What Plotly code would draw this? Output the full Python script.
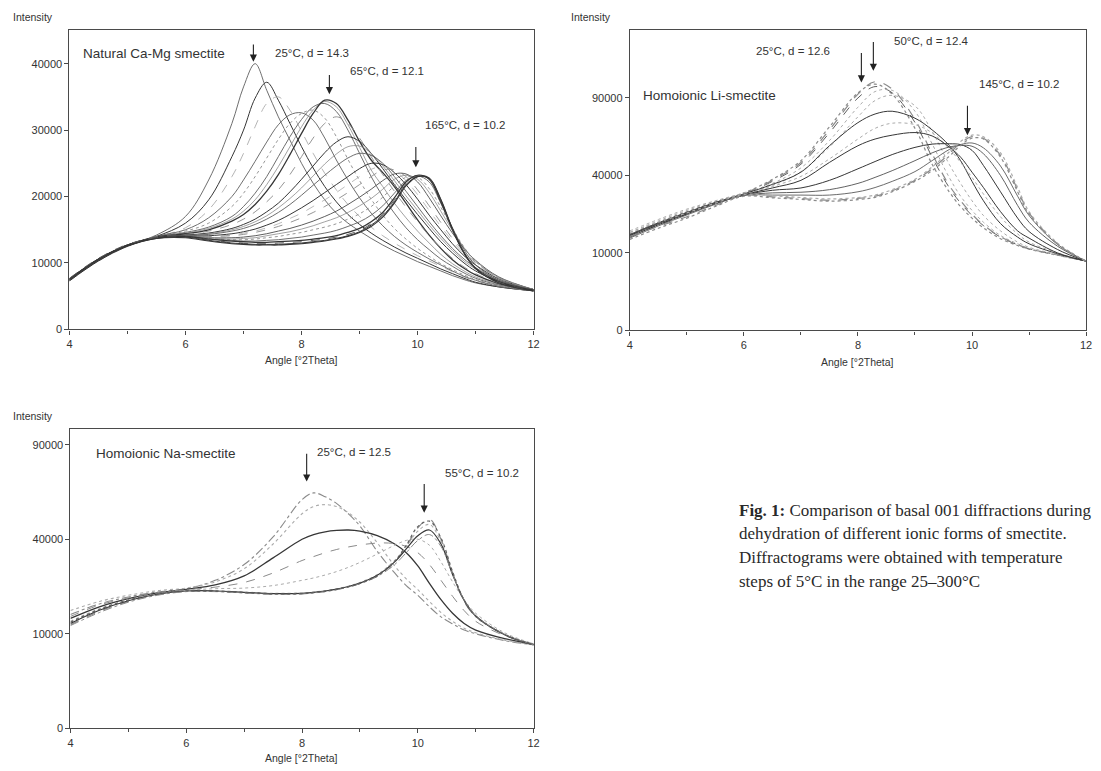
import numpy as np
import plotly.graph_objects as go

W, H = 1101, 771
SANS = "Liberation Sans, Arial, sans-serif"
SERIF = "Liberation Serif, Times New Roman, serif"

# ---------------- Natural Ca-Mg smectite (intensity in thousands of counts) ----------------
camg_angle = [4.0, 4.5, 5.0, 5.5, 6.0, 6.4, 6.8, 7.0, 7.2, 7.4, 7.6, 7.8, 8.0, 8.2, 8.4,
              8.6, 8.8, 9.0, 9.2, 9.4, 9.6, 9.8, 10.0, 10.2, 10.4, 10.6, 10.8, 11.0, 11.4, 12.0]
camg_25 = [7.4, 10.4, 12.6, 14.2, 17.0, 22.5, 31.0, 36.5, 40.0, 36.0, 32.0, 28.5, 25.0, 22.0, 19.5,
           17.5, 16.0, 14.8, 13.7, 12.7, 11.8, 11.0, 10.2, 9.5, 8.8, 8.1, 7.5, 7.0, 6.4, 5.8]
camg_30 = [7.6, 10.6, 12.7, 14.0, 16.0, 19.5, 26.0, 30.0, 34.8, 37.2, 34.5, 31.0, 27.5, 24.3, 21.5,
           19.2, 17.3, 15.8, 14.5, 13.4, 12.4, 11.5, 10.7, 9.9, 9.1, 8.4, 7.7, 7.1, 6.4, 5.8]
camg_35 = [7.3, 10.3, 12.5, 13.9, 15.3, 18.0, 23.0, 26.5, 30.5, 34.0, 35.0, 33.0, 29.8, 26.5, 23.5,
           21.0, 18.8, 17.0, 15.4, 14.1, 13.0, 12.0, 11.1, 10.3, 9.5, 8.7, 7.9, 7.3, 6.5, 5.8]
camg_40 = [7.5, 10.5, 12.6, 14.0, 15.0, 16.8, 20.0, 22.5, 25.3, 28.2, 30.8, 32.3, 32.6, 31.5, 28.8,
           25.5, 22.5, 19.8, 17.5, 15.6, 14.0, 12.7, 11.6, 10.6, 9.7, 8.8, 8.0, 7.4, 6.5, 5.8]
camg_45 = [7.6, 10.6, 12.7, 14.0, 14.8, 16.0, 18.5, 20.5, 23.0, 25.8, 28.6, 31.0, 32.5, 33.0, 31.8,
           29.0, 25.6, 22.4, 19.6, 17.2, 15.2, 13.6, 12.2, 11.0, 9.9, 9.0, 8.2, 7.5, 6.6, 5.8]
camg_55 = [7.4, 10.4, 12.6, 13.9, 14.6, 15.4, 17.0, 18.5, 20.5, 23.0, 26.0, 29.0, 31.6, 33.5, 34.0,
           32.8, 30.0, 26.5, 23.0, 20.0, 17.5, 15.3, 13.5, 12.0, 10.6, 9.5, 8.5, 7.7, 6.7, 5.9]
camg_60 = [7.5, 10.5, 12.6, 13.9, 14.5, 15.2, 16.6, 17.8, 19.5, 21.8, 24.5, 27.5, 30.5, 33.0, 34.3,
           33.5, 30.8, 27.4, 24.0, 21.5, 19.0, 16.8, 14.8, 13.0, 11.3, 9.9, 8.8, 7.9, 6.8, 5.9]
camg_65 = [7.5, 10.5, 12.7, 13.9, 14.4, 15.0, 16.3, 17.3, 18.8, 20.8, 23.3, 26.3, 29.5, 32.5, 34.5,
           34.0, 31.5, 28.3, 25.5, 23.6, 21.5, 19.0, 16.5, 14.2, 12.2, 10.5, 9.2, 8.2, 6.9, 5.9]
camg_75 = [7.6, 10.6, 12.7, 13.9, 14.3, 14.8, 15.8, 16.6, 17.7, 19.2, 21.0, 23.3, 26.0, 28.8, 31.0,
           32.0, 31.0, 28.8, 26.0, 23.3, 20.8, 18.4, 16.2, 14.1, 12.3, 10.7, 9.4, 8.4, 7.0, 5.9]
camg_85 = [7.4, 10.4, 12.6, 13.8, 14.2, 14.5, 15.2, 15.8, 16.6, 17.7, 19.0, 20.7, 22.6, 24.6, 26.6,
           28.2, 29.0, 28.3, 26.5, 24.2, 21.8, 19.5, 17.3, 15.2, 13.2, 11.5, 10.0, 8.8, 7.2, 6.0]
camg_90 = [7.5, 10.5, 12.6, 13.8, 14.1, 14.4, 15.0, 15.5, 16.2, 17.1, 18.3, 19.7, 21.3, 23.1, 24.9,
           26.4, 27.5, 27.6, 26.5, 24.6, 22.4, 20.1, 17.9, 15.7, 13.7, 11.9, 10.3, 9.1, 7.3, 6.0]
camg_95 = [7.5, 10.5, 12.6, 13.8, 14.1, 14.3, 14.8, 15.2, 15.8, 16.6, 17.6, 18.8, 20.2, 21.7, 23.2,
           24.6, 25.8, 26.5, 26.2, 25.0, 23.0, 20.8, 18.5, 16.2, 14.1, 12.2, 10.6, 9.3, 7.4, 6.0]
camg_105 = [7.6, 10.6, 12.7, 13.8, 14.0, 14.1, 14.4, 14.7, 15.1, 15.7, 16.4, 17.3, 18.3, 19.4, 20.6,
            21.8, 23.0, 24.2, 25.0, 24.8, 23.6, 21.8, 19.6, 17.2, 15.0, 12.9, 11.1, 9.7, 7.6, 6.0]
camg_110 = [7.5, 10.5, 12.6, 13.8, 14.0, 14.0, 14.2, 14.5, 14.8, 15.3, 15.9, 16.7, 17.5, 18.5, 19.5,
            20.6, 21.8, 23.0, 24.1, 24.5, 23.9, 22.4, 20.3, 17.9, 15.5, 13.3, 11.4, 9.9, 7.7, 6.0]
camg_115 = [7.4, 10.4, 12.6, 13.8, 14.0, 14.0, 14.1, 14.3, 14.6, 15.0, 15.5, 16.1, 16.8, 17.6, 18.5,
            19.5, 20.6, 21.8, 23.0, 24.0, 24.0, 23.0, 21.0, 18.6, 16.1, 13.7, 11.7, 10.1, 7.8, 6.0]
camg_125 = [7.5, 10.5, 12.6, 13.8, 14.0, 13.8, 13.8, 13.9, 14.1, 14.4, 14.8, 15.2, 15.7, 16.3, 17.0,
            17.8, 18.8, 19.9, 21.1, 22.4, 23.4, 23.4, 22.2, 19.8, 17.1, 14.5, 12.2, 10.4, 7.9, 6.0]
camg_135 = [7.5, 10.5, 12.6, 13.8, 14.0, 13.8, 13.6, 13.7, 13.8, 14.1, 14.4, 14.7, 15.1, 15.6, 16.2,
            16.8, 17.6, 18.6, 19.7, 21.1, 22.6, 23.2, 22.6, 20.6, 17.8, 14.9, 12.3, 10.3, 7.8, 6.0]
camg_145 = [7.6, 10.6, 12.7, 13.8, 14.0, 13.7, 13.5, 13.5, 13.6, 13.8, 14.0, 14.3, 14.6, 15.0, 15.4,
            15.9, 16.6, 17.4, 18.5, 19.9, 21.6, 22.9, 22.9, 21.2, 18.4, 15.2, 12.4, 10.2, 7.7, 6.0]
camg_155 = [7.4, 10.4, 12.6, 13.8, 14.0, 13.6, 13.4, 13.3, 13.3, 13.4, 13.5, 13.7, 13.9, 14.2, 14.5,
            14.9, 15.5, 16.2, 17.2, 18.6, 20.5, 22.4, 23.1, 22.2, 19.0, 15.3, 12.0, 9.7, 7.4, 6.0]
camg_165 = [7.6, 10.6, 12.7, 13.8, 14.0, 13.6, 13.3, 13.2, 13.1, 13.1, 13.2, 13.3, 13.4, 13.6, 13.8,
            14.1, 14.6, 15.2, 16.2, 17.6, 19.8, 22.2, 23.2, 22.6, 19.2, 15.0, 11.5, 9.2, 7.2, 5.9]
camg_200 = [7.5, 10.5, 12.6, 13.7, 13.8, 13.3, 12.9, 12.8, 12.7, 12.7, 12.7, 12.8, 12.9, 13.1, 13.3,
            13.6, 14.0, 14.6, 15.5, 16.9, 19.0, 21.6, 23.0, 22.8, 19.6, 15.2, 11.6, 9.2, 7.1, 5.8]
camg_250 = [7.7, 10.7, 12.8, 13.8, 13.9, 13.5, 13.1, 13.0, 12.9, 12.9, 13.0, 13.1, 13.2, 13.4, 13.6,
            13.9, 14.3, 14.9, 15.9, 17.3, 19.5, 22.0, 23.1, 22.7, 19.4, 15.1, 11.6, 9.2, 7.1, 5.8]
camg_300 = [7.3, 10.3, 12.5, 13.7, 13.9, 13.4, 13.0, 12.9, 12.8, 12.8, 12.8, 12.9, 13.0, 13.2, 13.4,
            13.7, 14.1, 14.7, 15.7, 17.1, 19.2, 21.8, 23.0, 22.7, 19.5, 15.1, 11.5, 9.1, 7.0, 5.8]

# ---------------- Homoionic Li-smectite ----------------
li_angle = [4.0, 4.5, 5.0, 5.5, 6.0, 6.5, 7.0, 7.5, 8.0, 8.3, 8.6, 9.0, 9.3, 9.6, 9.8, 10.0,
            10.2, 10.5, 10.8, 11.0, 11.5, 12.0]
li_25 = [15.5, 19.5, 23.5, 27.5, 31.5, 38.0, 48.0, 69.0, 94.0, 101.0, 93.0, 68.0, 46.0, 32.0, 25.5,
         21.0, 17.5, 14.0, 12.0, 11.0, 9.4, 8.0]
li_30 = [14.5, 18.5, 22.5, 27.0, 31.0, 37.0, 46.0, 65.0, 90.0, 99.0, 94.0, 72.0, 50.0, 34.0, 27.0,
         22.0, 18.3, 14.5, 12.2, 11.1, 9.5, 8.0]
li_40 = [16.5, 20.5, 24.5, 28.0, 31.5, 36.0, 44.0, 60.0, 83.0, 95.0, 96.0, 80.0, 58.0, 39.0, 30.0,
         24.0, 19.5, 15.0, 12.5, 11.2, 9.5, 8.0]
li_50 = [15.0, 19.0, 23.0, 27.2, 31.2, 37.5, 47.0, 67.0, 93.0, 103.0, 97.0, 74.0, 52.0, 35.0, 28.0,
         22.5, 18.5, 14.6, 12.3, 11.1, 9.5, 8.0]
li_60 = [16.0, 20.0, 24.0, 27.8, 31.0, 35.0, 42.0, 56.0, 76.0, 88.0, 92.0, 84.0, 66.0, 46.0, 36.0,
         28.0, 22.0, 16.5, 13.0, 11.5, 9.6, 8.0]
li_70 = [15.2, 19.3, 23.2, 27.3, 31.0, 35.5, 41.7, 56.8, 71.9, 78.0, 80.0, 75.0, 67.0, 57.0, 48.0,
         37.0, 28.0, 19.0, 14.5, 12.5, 9.8, 8.0]
li_80 = [14.8, 18.8, 22.8, 27.0, 30.8, 34.5, 39.5, 49.0, 61.0, 68.0, 71.5, 70.5, 65.0, 55.0, 47.0,
         39.0, 31.0, 21.5, 15.5, 13.0, 10.0, 8.0]
li_90 = [15.0, 19.0, 23.0, 27.0, 30.6, 33.8, 37.5, 47.0, 56.8, 61.0, 63.5, 65.2, 63.0, 56.0, 50.0,
         41.7, 34.0, 23.5, 16.5, 14.2, 10.0, 8.0]
li_100 = [14.6, 18.6, 22.6, 26.8, 30.5, 32.7, 33.8, 37.5, 43.5, 47.5, 51.5, 55.8, 57.8, 58.0, 57.5,
          54.0, 45.3, 32.0, 21.0, 16.3, 10.9, 8.0]
li_110 = [15.3, 19.2, 23.0, 27.0, 30.4, 31.5, 31.8, 33.0, 36.0, 39.0, 42.5, 48.0, 52.5, 56.0, 57.0,
          56.5, 52.0, 40.0, 26.0, 19.5, 11.8, 8.0]
li_120 = [14.2, 18.2, 22.2, 26.5, 30.4, 30.5, 30.5, 30.5, 32.0, 34.0, 37.0, 42.0, 48.0, 54.5, 57.5,
          58.5, 55.5, 45.0, 30.0, 22.0, 12.3, 8.0]
li_145 = [14.7, 18.0, 21.5, 26.0, 30.4, 29.7, 29.0, 28.2, 29.0, 30.0, 32.5, 37.5, 43.5, 52.0, 58.5,
          62.5, 61.5, 51.0, 33.0, 23.0, 12.5, 8.0]
li_200 = [16.0, 19.5, 23.0, 27.0, 30.8, 30.2, 29.4, 28.8, 29.4, 30.5, 33.0, 38.0, 44.5, 53.0, 59.5,
          63.5, 62.5, 52.5, 34.0, 23.5, 12.7, 8.0]
li_300 = [13.8, 17.4, 21.0, 25.6, 30.0, 29.3, 28.6, 27.8, 28.5, 29.5, 32.0, 37.0, 42.5, 50.5, 57.0,
          61.5, 61.0, 50.0, 32.0, 22.5, 12.4, 8.0]

# ---------------- Homoionic Na-smectite ----------------
na_angle = [4.0, 4.5, 5.0, 5.5, 6.0, 6.5, 7.0, 7.5, 8.0, 8.2, 8.4, 8.6, 8.8, 9.0, 9.3, 9.6, 9.8,
            10.0, 10.2, 10.4, 10.6, 10.8, 11.0, 11.5, 12.0]
na_25 = [14.5, 17.3, 19.3, 20.8, 21.8, 24.5, 30.0, 41.0, 58.5, 62.0, 60.0, 56.5, 51.5, 45.8, 35.0,
         27.0, 22.8, 19.8, 16.5, 13.9, 12.2, 10.8, 10.0, 8.6, 7.8]
na_30 = [15.5, 18.0, 19.8, 21.2, 22.0, 24.0, 28.5, 38.0, 51.5, 55.0, 56.0, 55.0, 52.0, 47.5, 38.5,
         29.5, 25.0, 21.5, 18.0, 15.0, 12.8, 11.2, 10.2, 8.7, 7.8]
na_35 = [13.5, 16.5, 18.8, 20.5, 21.6, 23.0, 26.0, 32.5, 40.0, 42.0, 43.2, 43.8, 44.0, 43.5, 41.5,
         38.0, 34.5, 29.5, 23.5, 18.5, 14.8, 12.3, 10.8, 9.0, 7.9]
na_40 = [14.0, 17.0, 19.0, 20.6, 21.5, 22.3, 23.8, 27.0, 31.5, 33.0, 34.5, 35.8, 36.8, 37.6, 38.4,
         38.2, 37.0, 34.5, 30.0, 24.5, 19.5, 15.5, 12.8, 9.6, 8.0]
na_45 = [12.5, 15.8, 18.3, 20.2, 21.3, 21.8, 22.0, 22.8, 24.5, 25.3, 26.3, 27.5, 29.0, 30.8, 34.0,
         37.5, 39.5, 40.0, 37.5, 31.0, 24.0, 18.5, 14.8, 10.2, 8.0]
na_55 = [12.0, 15.3, 18.0, 20.0, 21.0, 21.0, 20.6, 20.2, 20.3, 20.6, 21.0, 21.6, 22.4, 23.5, 26.0,
         31.0, 37.0, 45.0, 49.0, 40.0, 27.0, 18.0, 14.0, 9.8, 7.8]
na_60 = [12.8, 16.0, 18.5, 20.3, 21.2, 21.2, 20.8, 20.4, 20.5, 20.8, 21.2, 21.8, 22.6, 23.8, 26.5,
         31.5, 37.0, 43.5, 46.5, 39.0, 27.0, 18.5, 14.2, 9.9, 7.8]
na_70 = [12.3, 15.6, 18.2, 20.1, 21.1, 21.1, 20.7, 20.3, 20.4, 20.7, 21.1, 21.7, 22.5, 23.6, 26.2,
         31.0, 36.0, 41.5, 44.0, 38.0, 26.5, 18.3, 14.1, 9.8, 7.8]
na_80 = [11.8, 15.0, 17.8, 19.8, 20.9, 20.9, 20.5, 20.1, 20.2, 20.5, 20.9, 21.5, 22.3, 23.4, 25.8,
         30.0, 34.5, 39.5, 42.0, 37.0, 26.5, 18.5, 14.2, 9.9, 7.8]
na_100 = [12.6, 15.8, 18.4, 20.2, 21.1, 21.0, 20.6, 20.2, 20.3, 20.6, 21.0, 21.6, 22.4, 23.5, 26.0,
          31.2, 37.5, 45.5, 48.0, 40.5, 27.5, 18.3, 14.0, 9.8, 7.8]

angle_ticks = [4, 6, 8, 10, 12]
camg_ticks = [0, 10000, 20000, 30000, 40000]
sqrt_ticks = [0, 10000, 40000, 90000]
KILO = 1000.0

# ---------------- styles ----------------
DARK, MID, LIGHT, PALE = "#363636", "#5e5e5e", "#8a8a8a", "#ababab"
camg_set = [
    (camg_25, MID, "solid", 0.9), (camg_30, DARK, "solid", 1.0), (camg_35, PALE, "dash", 0.9),
    (camg_40, MID, "solid", 0.9), (camg_45, LIGHT, "dot", 0.9), (camg_55, MID, "solid", 0.9),
    (camg_60, LIGHT, "solid", 0.8), (camg_65, DARK, "solid", 1.3), (camg_75, LIGHT, "dash", 0.9),
    (camg_85, DARK, "solid", 1.0), (camg_90, LIGHT, "solid", 0.8), (camg_95, MID, "solid", 0.9),
    (camg_105, DARK, "solid", 1.0), (camg_110, PALE, "dash", 0.8), (camg_115, LIGHT, "dash", 0.9),
    (camg_125, MID, "solid", 1.0), (camg_135, LIGHT, "solid", 0.8), (camg_145, LIGHT, "dot", 0.9),
    (camg_155, MID, "solid", 0.9), (camg_165, DARK, "solid", 1.3), (camg_200, DARK, "solid", 1.1),
    (camg_250, MID, "dash", 1.0), (camg_300, DARK, "solid", 1.0),
]
li_set = [
    (li_25, LIGHT, "dot", 1.2), (li_30, MID, "dash", 1.0), (li_40, PALE, "dot", 1.0),
    (li_50, LIGHT, "dash", 1.2), (li_60, PALE, "dot", 1.0), (li_70, DARK, "solid", 1.0),
    (li_80, PALE, "dot", 1.0), (li_90, DARK, "solid", 1.0), (li_100, DARK, "solid", 1.0),
    (li_110, "#505050", "solid", 0.9), (li_120, "#5a5a5a", "solid", 0.9),
    (li_145, LIGHT, "dash", 1.2), (li_200, PALE, "dot", 1.2), (li_300, LIGHT, "dot", 1.2),
]
na_set = [
    (na_25, LIGHT, "dashdot", 1.1), (na_30, PALE, "dot", 1.1), (na_35, DARK, "solid", 1.3),
    (na_40, LIGHT, "dash", 1.0), (na_45, PALE, "dot", 1.0), (na_55, LIGHT, "dash", 1.2),
    (na_60, PALE, "dot", 1.1), (na_70, DARK, "solid", 1.2), (na_80, LIGHT, "dashdot", 1.0),
    (na_100, MID, "dot", 1.2),
]

fig = go.Figure()


def add_set(angle, curves, xa, ya, sqrt_scale):
    for vals, color, dash, width in curves:
        counts = np.array(vals) * KILO
        yv = np.sqrt(counts) if sqrt_scale else counts
        fig.add_trace(go.Scatter(
            x=angle, y=yv, mode="lines", xaxis=xa, yaxis=ya, showlegend=False,
            hoverinfo="skip",
            line=dict(color=color, dash=dash, width=width, shape="spline", smoothing=1.0)))


add_set(camg_angle, camg_set, "x", "y", False)
add_set(li_angle, li_set, "x2", "y2", True)
add_set(na_angle, na_set, "x3", "y3", True)


def xd(a, b):
    return [a / W, b / W]


def yd(top, bottom):
    return [1 - bottom / H, 1 - top / H]


def axis_base():
    return dict(showline=True, linecolor="#4a4a4a", linewidth=1.2, mirror=True,
                ticks="outside", ticklen=4, tickwidth=1, tickcolor="#4a4a4a",
                tickfont=dict(family=SANS, size=11, color="#333"),
                showgrid=False, zeroline=False, fixedrange=True)


def xaxis(domain, anchor):
    d = axis_base()
    d.update(domain=domain, anchor=anchor, range=[4, 12], tickmode="array",
             tickvals=angle_ticks, ticktext=[str(t) for t in angle_ticks],
             minor=dict(dtick=1, tick0=4, ticks="outside", ticklen=3, tickcolor="#4a4a4a"))
    return d


def yaxis_lin(domain, anchor):
    d = axis_base()
    d.update(domain=domain, anchor=anchor, range=[0, 45100], tickmode="array",
             tickvals=camg_ticks, ticktext=[str(t) for t in camg_ticks])
    return d


def yaxis_sqrt(domain, anchor, top):
    d = axis_base()
    d.update(domain=domain, anchor=anchor, range=[0, top], tickmode="array",
             tickvals=[np.sqrt(t) for t in sqrt_ticks], ticktext=[str(t) for t in sqrt_ticks])
    return d


fig.update_layout(
    width=W, height=H, autosize=False,
    margin=dict(l=0, r=0, t=0, b=0),
    paper_bgcolor="white", plot_bgcolor="white",
    xaxis=xaxis(xd(67, 535), "y"), yaxis=yaxis_lin(yd(30, 332), "x"),
    xaxis2=xaxis(xd(632, 1092), "y2"), yaxis2=yaxis_sqrt(yd(30, 333), "x2", 388),
    xaxis3=xaxis(xd(68, 535), "y3"), yaxis3=yaxis_sqrt(yd(432, 734), "x3", 317),
)

ann = []


def label(text, x, y, xr, yr, size=11.5, xanchor="left"):
    ann.append(dict(text=text, x=x, y=y, xref=xr, yref=yr, showarrow=False, xanchor=xanchor,
                    yanchor="middle", font=dict(family=SANS, size=size, color="#333")))


def arrow(x, y_tail, y_tip, xr, yr):
    ann.append(dict(text="", x=x, y=y_tip, ax=x, ay=y_tail, xref=xr, yref=yr, axref=xr, ayref=yr,
                    showarrow=True, arrowhead=2, arrowsize=1.3, arrowwidth=1.1, arrowcolor="#222"))


def paper(text, px, py, size=11, xanchor="left", family=SANS, color="#333"):
    ann.append(dict(text=text, x=px / W, y=1 - py / H, xref="paper", yref="paper", showarrow=False,
                    xanchor=xanchor, yanchor="middle", font=dict(family=family, size=size, color=color)))


# Ca-Mg panel texts
label("Natural Ca-Mg smectite", 4.2, 41500, "x", "y", size=13.5)
label("25°C, d = 14.3", 7.5, 41600, "x", "y")
label("65°C, d = 12.1", 8.8, 38900, "x", "y")
label("165°C, d = 10.2", 10.1, 30800, "x", "y")
arrow(7.17, 43100, 40300, "x", "y")
arrow(8.48, 38500, 35400, "x", "y")
arrow(9.97, 27700, 24400, "x", "y")

# Li panel texts (sqrt coordinates)
label("Homoionic Li-smectite", 4.2, 303, "x2", "y2", size=13.5)
label("25°C, d = 12.6", 6.18, 360, "x2", "y2")
label("50°C, d = 12.4", 8.6, 374, "x2", "y2")
label("145°C, d = 10.2", 10.08, 318, "x2", "y2")
arrow(8.06, 360, 320, "x2", "y2")
arrow(8.27, 374, 335, "x2", "y2")
arrow(9.92, 292, 252, "x2", "y2")

# Na panel texts
label("Homoionic Na-smectite", 4.4, 291, "x3", "y3", size=13.5)
label("25°C, d = 12.5", 8.23, 292, "x3", "y3")
label("55°C, d = 10.2", 10.44, 270, "x3", "y3")
arrow(8.08, 292, 261, "x3", "y3")
arrow(10.11, 260, 228, "x3", "y3")

# axis captions
paper("Intensity", 8, 17, size=10.5)
paper("Intensity", 571, 17, size=10.5)
paper("Intensity", 8, 419, size=10.5)
paper("Angle [°2Theta]", 301, 363, size=10.5, xanchor="center")
paper("Angle [°2Theta]", 862, 365, size=10.5, xanchor="center")
paper("Angle [°2Theta]", 301, 764, size=10.5, xanchor="center")

# figure caption
cap = ["<b>Fig. 1:</b> Comparison of basal 001 diffractions during",
       "dehydration of different ionic forms of smectite.",
       "Diffractograms were obtained with temperature",
       "steps of 5°C in the range 25–300°C"]
for i, line in enumerate(cap):
    paper(line, 740, 514 + 24 * i, size=17, family=SERIF, color="#2a2a2a")

fig.update_layout(annotations=ann)
fig.write_html("out.html", config={"displayModeBar": False},
               post_script="document.body.style.margin='0';document.body.style.padding='0';")
